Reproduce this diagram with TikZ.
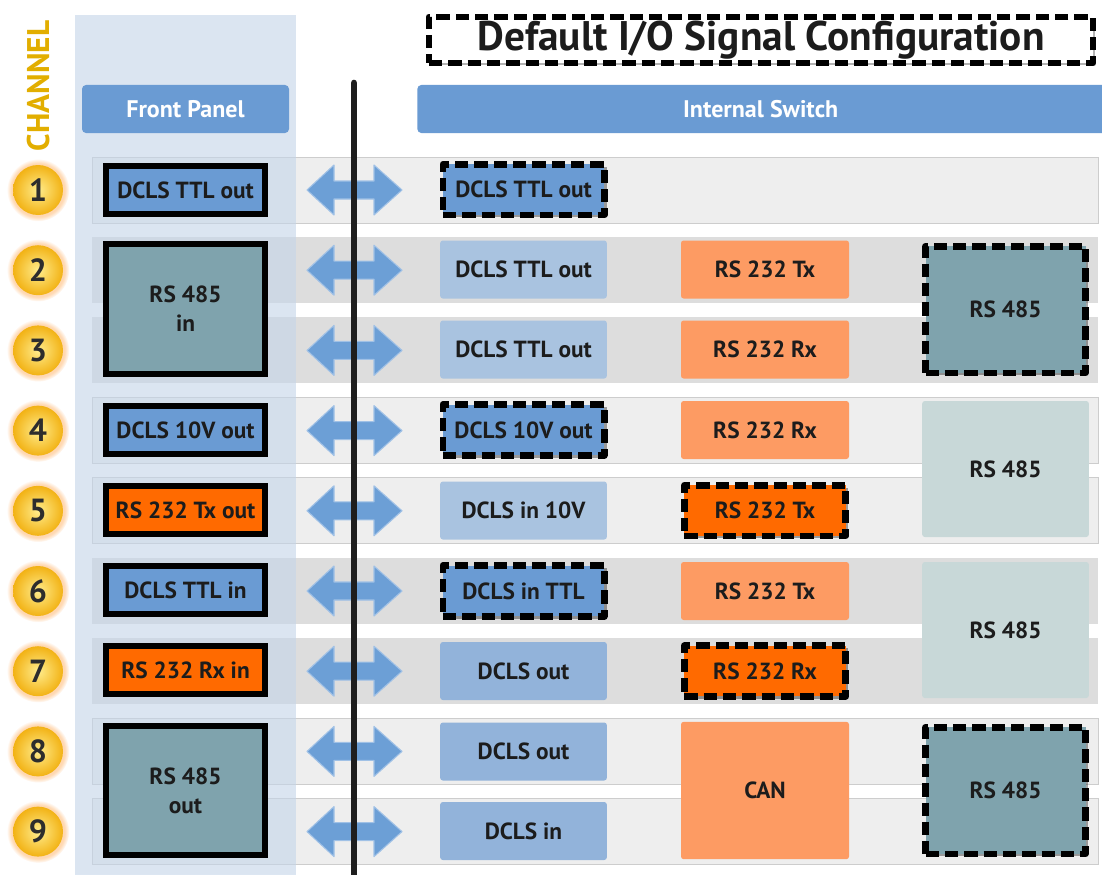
\documentclass[tikz,border=0pt]{standalone}
\usepackage{fontspec}
\setmainfont{PT Sans}
\usetikzlibrary{shadows}
\definecolor{fpblue}{HTML}{6A9BD3}
\definecolor{colbg}{RGB}{196,213,233}
\definecolor{bandA}{HTML}{EEEEEE}
\definecolor{bandB}{HTML}{DDDDDD}
\definecolor{tealbox}{HTML}{7FA3AD}
\definecolor{lteal}{HTML}{C8D8D8}
\definecolor{orng}{HTML}{FF6A00}
\definecolor{lorng}{HTML}{FD9B63}
\definecolor{lblue}{HTML}{A9C3E0}
\definecolor{mblue}{HTML}{92B3DA}
\definecolor{chgold}{RGB}{226,174,0}
\definecolor{arrblue}{HTML}{6C9FD6}
\definecolor{txt}{HTML}{1C1C1C}
\tikzset{
  bx/.style={rectangle, inner sep=0pt, align=center, text=txt,
    font=\bfseries\fontsize{17.5}{22}\selectfont},
  fpbox/.style={bx, draw=black, line width=4.6pt,
    drop shadow={shadow xshift=1.8pt, shadow yshift=-1.8pt, fill=black, opacity=0.35}},
  swbox/.style={bx, rounded corners=2pt},
  dbox/.style={bx, draw=black, line width=5pt, dash pattern=on 10pt off 4.5pt,
    line cap=butt, line join=round,
    drop shadow={shadow xshift=1.8pt, shadow yshift=-1.8pt, fill=black, opacity=0.35}},
  hdr/.style={rectangle, rounded corners=3pt, fill=fpblue, text=white,
    font=\bfseries\fontsize{18}{20}\selectfont, inner sep=0pt},
  chan/.style={circle, minimum size=37.5pt, inner sep=0pt,
    inner color={rgb,255:red,255;green,236;blue,140},
    outer color={rgb,255:red,242;green,178;blue,20},
    circular glow={fill=orange, opacity=0.3},
    text={rgb,255:red,45;green,45;blue,45},
    font=\bfseries\fontsize{24}{24}\selectfont},
  dblarrow/.style={fill=arrblue, draw={rgb,255:red,160;green,193;blue,230}, line width=0.8pt, line join=round}
}
\begin{document}
\begin{tikzpicture}[x=0.75pt, y=-0.75pt]
\clip (0,0) rectangle (1102,874);
\fill[white] (0,0) rectangle (1102,874);

% row bands
\foreach \r/\c/\col/\bd in {1/190/bandA/1, 2/270.2/bandB/0, 3/350.4/bandB/0, 4/430.6/bandA/1, 5/510.8/bandA/1, 6/591/bandB/0, 7/671.2/bandB/0, 8/751.4/bandA/1, 9/831.6/bandA/1}{
  \ifnum\bd=1
    \filldraw[fill=\col, draw={rgb,255:red,205;green,205;blue,205}, line width=0.6pt] (92,\c-33) rectangle (1098,\c+33);
  \else
    \fill[\col] (92,\c-33) rectangle (1098,\c+33);
  \fi
}

% front panel column
\fill[colbg, opacity=0.6] (75,15) rectangle (296,880);

% headers
\node[hdr, minimum width=155.25pt, minimum height=36pt] (fphdr) at (185.5,109) {Front Panel};
\node[hdr, minimum width=520pt, minimum height=36pt] (ishdr) at (764,109) {\hspace*{-5pt}Internal Switch};

% title
\node[rectangle, draw=black, line width=5pt, dash pattern=on 10pt off 4.5pt, line cap=butt, line join=round,
  fill=white, minimum width=498pt, minimum height=34.5pt, inner sep=0pt,
  drop shadow={shadow xshift=1.8pt, shadow yshift=-1.8pt, fill=black, opacity=0.3},
  font=\bfseries\fontsize{31}{34}\selectfont, text=txt] (title) at (761,40) {Default I/O Signal Configuration};

% CHANNEL label
\node[rotate=90, text=chgold, font=\bfseries\fontsize{23.5}{24}\selectfont, inner sep=0pt] (chlabel) at (39,86) {CHANNEL};

% channel circles
\foreach \r/\c in {1/190, 2/270.2, 3/350.4, 4/430.6, 5/510.8, 6/591, 7/671.2, 8/751.4, 9/831.6}{
  \node[chan] (c\r) at (38,\c) {\r};
}

% double arrows
\foreach \r/\c in {1/190, 2/270.2, 3/350.4, 4/430.6, 5/510.8, 6/591, 7/671.2, 8/751.4, 9/831.6}{
  \filldraw[dblarrow] (307,\c) -- (334,\c-25) -- (334,\c-9) -- (374,\c-9) -- (374,\c-25)
    -- (402,\c) -- (374,\c+25) -- (374,\c+9) -- (334,\c+9) -- (334,\c+25) -- cycle;
}

% vertical divider
\draw[line width=5pt, color={rgb,255:red,30;green,30;blue,30}, line cap=round] (354,83) -- (354,880);

% front panel boxes
\node[fpbox, fill=fpblue, minimum width=119pt, minimum height=36.5pt] (fp1) at (185.5,190) {DCLS TTL out};
\node[fpbox, fill=tealbox, minimum width=119pt, minimum height=97pt] (fp23) at (185.5,309) {RS 485\\in};
\node[fpbox, fill=fpblue, minimum width=119pt, minimum height=36.5pt] (fp4) at (185.5,430) {DCLS 10V out};
\node[fpbox, fill=orng, minimum width=119pt, minimum height=36.5pt] (fp5) at (185.5,510) {RS 232 Tx out};
\node[fpbox, fill=fpblue, minimum width=119pt, minimum height=36.5pt] (fp6) at (185.5,590) {DCLS TTL in};
\node[fpbox, fill=orng, minimum width=119pt, minimum height=36.5pt] (fp7) at (185.5,670) {RS 232 Rx in};
\node[fpbox, fill=tealbox, minimum width=119pt, minimum height=96.5pt] (fp89) at (185.5,790.5) {RS 485\\out};

% internal switch column 1
\node[dbox, fill=fpblue, minimum width=121pt, minimum height=38pt] (s11) at (523.5,189.5) {DCLS TTL out};
\node[swbox, fill=lblue, minimum width=125pt, minimum height=43.5pt] (s12) at (523.5,269.5) {DCLS TTL out};
\node[swbox, fill=lblue, minimum width=125pt, minimum height=43.5pt] (s13) at (523.5,349.5) {DCLS TTL out};
\node[dbox, fill=fpblue, minimum width=121pt, minimum height=38pt] (s14) at (523.5,430) {DCLS 10V out};
\node[swbox, fill=lblue, minimum width=125pt, minimum height=43.5pt] (s15) at (523.5,510.5) {DCLS in 10V};
\node[dbox, fill=fpblue, minimum width=121pt, minimum height=38pt] (s16) at (523.5,591) {DCLS in TTL};
\node[swbox, fill=mblue, minimum width=125pt, minimum height=43.5pt] (s17) at (523.5,671) {DCLS out};
\node[swbox, fill=mblue, minimum width=125pt, minimum height=43.5pt] (s18) at (523.5,751.5) {DCLS out};
\node[swbox, fill=mblue, minimum width=125pt, minimum height=43.5pt] (s19) at (523.5,831) {DCLS in};

% internal switch column 2
\node[swbox, fill=lorng, minimum width=126pt, minimum height=43.5pt] (s22) at (765,269.5) {RS 232 Tx};
\node[swbox, fill=lorng, minimum width=126pt, minimum height=43.5pt] (s23) at (765,349.5) {RS 232 Rx};
\node[swbox, fill=lorng, minimum width=126pt, minimum height=43.5pt] (s24) at (765,430) {RS 232 Rx};
\node[dbox, fill=orng, minimum width=121pt, minimum height=38pt] (s25) at (765,510.5) {RS 232 Tx};
\node[swbox, fill=lorng, minimum width=126pt, minimum height=43.5pt] (s26) at (765,591) {RS 232 Tx};
\node[dbox, fill=orng, minimum width=121pt, minimum height=38pt] (s27) at (765,671) {RS 232 Rx};
\node[swbox, fill=lorng, minimum width=126pt, minimum height=103pt] (s289) at (765,790.5) {CAN};

% internal switch column 3
\node[dbox, fill=tealbox, minimum width=120pt, minimum height=95pt] (s323) at (1005.5,309.5) {RS 485};
\node[swbox, fill=lteal, minimum width=125pt, minimum height=102pt] (s345) at (1005.5,469) {RS 485};
\node[swbox, fill=lteal, minimum width=125pt, minimum height=102pt] (s367) at (1005.5,630) {RS 485};
\node[dbox, fill=tealbox, minimum width=120pt, minimum height=95pt] (s389) at (1005.5,790.5) {RS 485};
\end{tikzpicture}
\end{document}
